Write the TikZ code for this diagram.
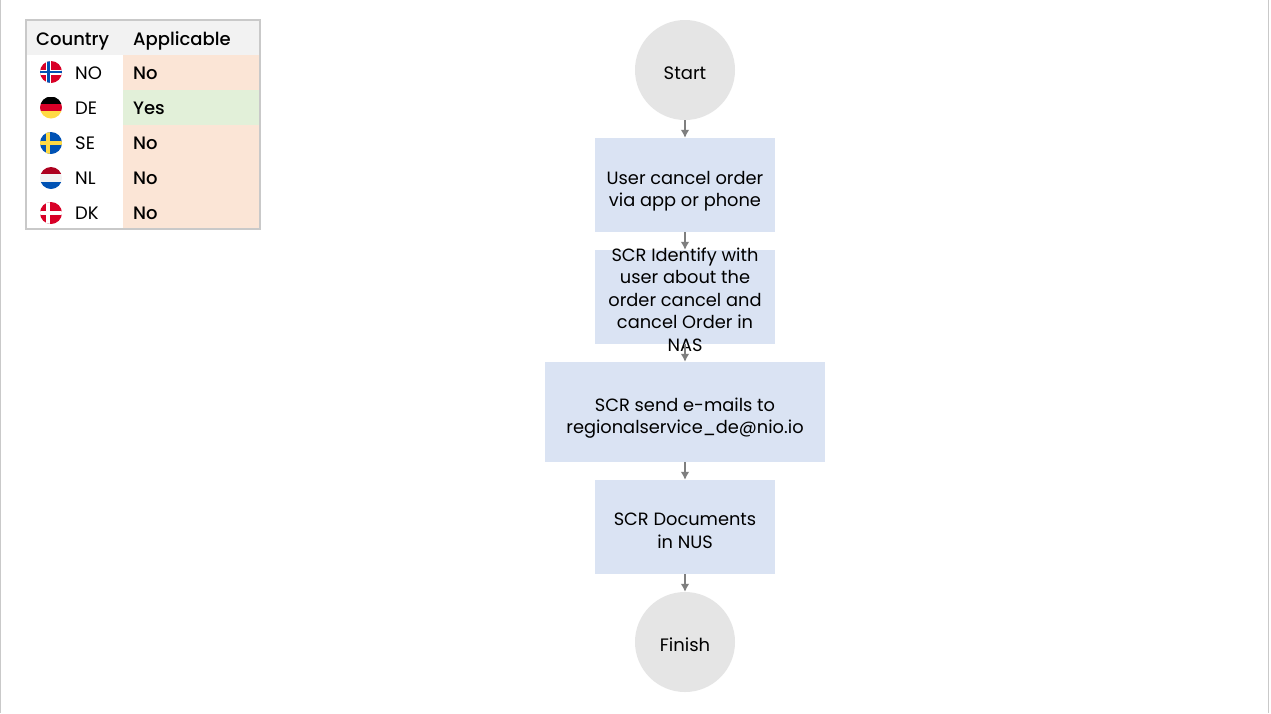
\documentclass[tikz,border=0pt]{standalone}
\usepackage{fontspec}
\setmainfont{Poppins}
\newfontfamily\medfont{Poppins Medium}
\usetikzlibrary{arrows.meta}

\definecolor{boxblue}{HTML}{DAE3F3}
\definecolor{endgray}{HTML}{E5E5E5}
\definecolor{headgray}{HTML}{F2F2F2}
\definecolor{linegray}{HTML}{7F7F7F}
\definecolor{framegray}{HTML}{C9C9C9}
\definecolor{noorange}{HTML}{FBE5D6}
\definecolor{yesgreen}{HTML}{E2F0D9}
\definecolor{flagred}{HTML}{D80027}
\definecolor{flagblue}{HTML}{0052B4}
\definecolor{flagyellow}{HTML}{FFDA44}

\tikzstyle{endnode}=[circle, fill=endgray, minimum size=100pt, inner sep=0pt, text height=22pt, text depth=3.4pt, font=\fontsize{18}{22}\selectfont]
\tikzstyle{stepbox}=[rectangle, fill=boxblue, minimum height=94pt, minimum width=180pt, inner sep=0pt]
\tikzstyle{steplabel}=[align=center, inner sep=0pt, font=\fontsize{17.8}{22.5}\selectfont]
\tikzstyle{headcell}=[rectangle, fill=headgray, minimum height=35pt, inner xsep=10pt, inner ysep=0pt, text height=16pt, text depth=1pt, anchor=west, font=\medfont\fontsize{18}{20}\selectfont]
\tikzstyle{nocell}=[rectangle, fill=noorange, minimum height=35pt, text width=117pt, inner xsep=10pt, inner ysep=0pt, text height=15pt, text depth=2pt, anchor=west, font=\medfont\fontsize{18}{20}\selectfont]
\tikzstyle{yescell}=[nocell, fill=yesgreen]
\tikzstyle{codenode}=[inner sep=0pt, anchor=west, text height=15pt, text depth=2pt, font=\fontsize{18}{20}\selectfont]
\tikzstyle{flagnode}=[circle, minimum size=22pt, inner sep=0pt, path picture={
  \begin{scope}[shift={(path picture bounding box.center)}] #1 \end{scope}}]

\begin{document}
\begin{tikzpicture}[x=1pt, y=-1pt]
    \useasboundingbox (0,0) rectangle (1271,713);
    \fill[white] (0,0) rectangle (1271,713);
    \draw[framegray, line width=1.5pt] (0.5,0) -- (0.5,713);
    \draw[framegray, line width=1.5pt] (1268.5,0) -- (1268.5,713);

    % table
    \node[headcell, text width=77pt, minimum width=97pt] (country) at (26,37.5) {Country};
    \node[headcell, text width=117pt] (applicable) at (123,37.5) {Applicable};
    \node[nocell] (ano) at (123,72.5) {No};
    \node[yescell] (ade) at (123,107.5) {Yes};
    \node[nocell] (ase) at (123,142.5) {No};
    \node[nocell] (anl) at (123,177.5) {No};
    \node[nocell] (adk) at (123,212.5) {No};
    \draw[framegray, line width=2pt] (26,20) rectangle (260,229);

    \node[flagnode={
      \fill[flagred] (-11,-11) rectangle (11,11);
      \fill[white] (-5,-11) rectangle (-0.5,11);
      \fill[white] (-11,-2.5) rectangle (11,2.5);
      \fill[flagblue] (-4,-11) rectangle (-1.5,11);
      \fill[flagblue] (-11,-1.2) rectangle (11,1.2);
    }] (no) at (51,72) {};
    \node[flagnode={
      \fill[black] (-11,-11) rectangle (11,-3.6);
      \fill[flagred] (-11,-3.6) rectangle (11,3.6);
      \fill[flagyellow] (-11,3.6) rectangle (11,11);
    }] (de) at (51,107.5) {};
    \node[flagnode={
      \fill[flagblue] (-11,-11) rectangle (11,11);
      \fill[flagyellow] (-5,-11) rectangle (-1.5,11);
      \fill[flagyellow] (-11,-1.8) rectangle (11,1.8);
    }] (se) at (51,143) {};
    \node[flagnode={
      \fill[black!20!flagred] (-11,-11) rectangle (11,-3.6);
      \fill[headgray] (-11,-3.6) rectangle (11,3.6);
      \fill[flagblue] (-11,3.6) rectangle (11,11);
    }] (nl) at (51,178) {};
    \node[flagnode={
      \fill[flagred] (-11,-11) rectangle (11,11);
      \fill[white] (-5,-11) rectangle (-1.5,11);
      \fill[white] (-11,-1.8) rectangle (11,1.8);
    }] (dk) at (51,213) {};
    \node[codenode] (cno) at (75,72.5) {NO};
    \node[codenode] (cde) at (75,107.5) {DE};
    \node[codenode] (cse) at (75,142.5) {SE};
    \node[codenode] (cnl) at (75,177.5) {NL};
    \node[codenode] (cdk) at (75,212.5) {DK};

    % flow
    \node[endnode] (start) at (685,70) {Start};
    \node[stepbox, label={[steplabel, yshift=-6pt]center:{User cancel order\\via app or phone}}] (cancel) at (685,185) {};
    \node[stepbox, label={[steplabel, yshift=-2.5pt]center:{SCR Identify with\\user about the\\order cancel and\\cancel Order in\\NAS}}] (identify) at (685,297) {};
    \node[stepbox, minimum width=280pt, minimum height=100pt, label={[steplabel, yshift=-6pt]center:{SCR send e-mails to\\regionalservice\_de@nio.io}}] (mail) at (685,412) {};
    \node[stepbox, label={[steplabel, yshift=-4pt]center:{SCR Documents\\in NUS}}] (docs) at (685,527) {};
    \node[endnode] (finish) at (685,642) {Finish};
    \path[draw, linegray, line width=1.2pt, -{Latex[length=8pt,width=8.5pt]}]
    (start) edge (cancel)
    (cancel) edge (identify)
    (identify) edge (mail)
    (mail) edge (docs)
    (docs) edge (finish)
	;
\end{tikzpicture}
\end{document}
